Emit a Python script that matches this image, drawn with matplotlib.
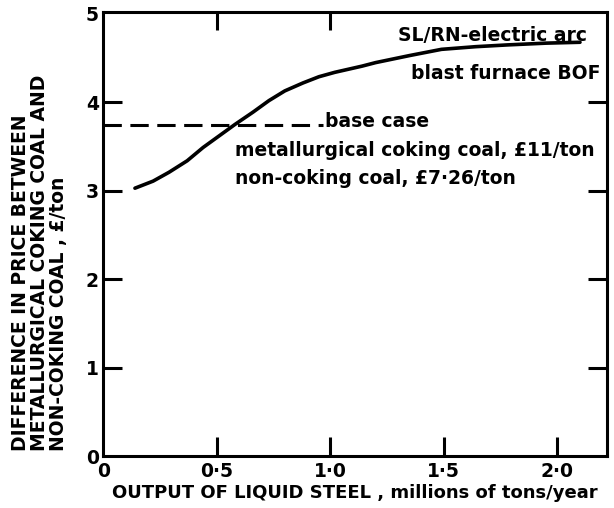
import matplotlib.pyplot as plt

# output of liquid steel (millions of tons/year) vs price difference (£/ton)
output_mt = [0.14, 0.22, 0.29, 0.37, 0.44, 0.51, 0.58, 0.66, 0.73, 0.80, 0.88,
             0.95, 1.02, 1.14, 1.20, 1.35, 1.49, 1.64, 1.78, 1.95, 2.10]
price_diff = [3.03, 3.11, 3.21, 3.34, 3.49, 3.62, 3.75, 3.89, 4.02, 4.13, 4.22,
              4.29, 4.34, 4.41, 4.45, 4.53, 4.60, 4.63, 4.65, 4.67, 4.68]

base_case = 3.75
base_case_end = 0.97

xticks = [0, 0.5, 1.0, 1.5, 2.0]
xtick_labels = ['0', '0·5', '1·0', '1·5', '2·0']
yticks = [0, 1, 2, 3, 4, 5]
ytick_labels = ['0', '1', '2', '3', '4', '5']

plt.rcParams['font.family'] = 'DejaVu Sans'
plt.rcParams['font.weight'] = 'bold'

fig = plt.figure(figsize=(6.14, 5.08), dpi=100)
ax = fig.add_axes([0.168, 0.102, 0.821, 0.874])

ax.plot(output_mt, price_diff, color='black', lw=2.6, solid_capstyle='round',
        solid_joinstyle='round')
ax.plot([0, base_case_end], [base_case, base_case], color='black', lw=2.2,
        dashes=(6, 2.8))

ax.set_xlim(0, 2.22)
ax.set_ylim(0, 5.02)

# inward ticks on bottom and left
ax.set_xticks(xticks)
ax.set_xticklabels(xtick_labels, fontsize=13.5, fontweight='bold')
ax.set_yticks(yticks)
ax.set_yticklabels(ytick_labels, fontsize=13.5, fontweight='bold')
ax.tick_params(direction='in', length=14, width=2.2, pad=4)
ax.tick_params(axis='y', pad=3)
# no tick marks at the corners
ax.yaxis.get_major_ticks()[0].tick1line.set_visible(False)
ax.yaxis.get_major_ticks()[-1].tick1line.set_visible(False)
ax.xaxis.get_major_ticks()[0].tick1line.set_visible(False)

# extra ticks on top and right
ax_top = ax.secondary_xaxis('top')
ax_top.set_xticks([0.5, 1.0])
ax_top.tick_params(direction='in', length=13, width=2.2, labeltop=False)
ax_top.spines['top'].set_visible(False)
ax_right = ax.secondary_yaxis('right')
ax_right.set_yticks([1, 2, 3, 4])
ax_right.tick_params(direction='in', length=14, width=2.2, labelright=False)
ax_right.spines['right'].set_visible(False)

for s in ax.spines.values():
    s.set_linewidth(2.2)

ax.text(2.13, 4.76, 'SL/RN-electric arc', ha='right', va='center', fontsize=13.5)
ax.text(2.19, 4.33, 'blast furnace BOF', ha='right', va='center', fontsize=13.5)
ax.text(0.975, 3.78, 'base case', ha='left', va='center', fontsize=13.5)
ax.text(0.58, 3.46, 'metallurgical coking coal, £11/ton', ha='left', va='center',
        fontsize=13.5)
ax.text(0.58, 3.14, 'non-coking coal, £7·26/ton', ha='left', va='center',
        fontsize=13.5)

ax.set_xlabel('OUTPUT OF LIQUID STEEL , millions of tons/year', fontsize=13,
              fontweight='bold', labelpad=2)
fig.text(0.065, 0.112,
         'DIFFERENCE IN PRICE BETWEEN\nMETALLURGICAL COKING COAL AND\nNON-COKING COAL , £/ton',
         rotation=90, ha='center', va='bottom', multialignment='left',
         fontsize=13.5, fontweight='bold', linespacing=1.0)

fig.savefig('out.png', dpi=100)
